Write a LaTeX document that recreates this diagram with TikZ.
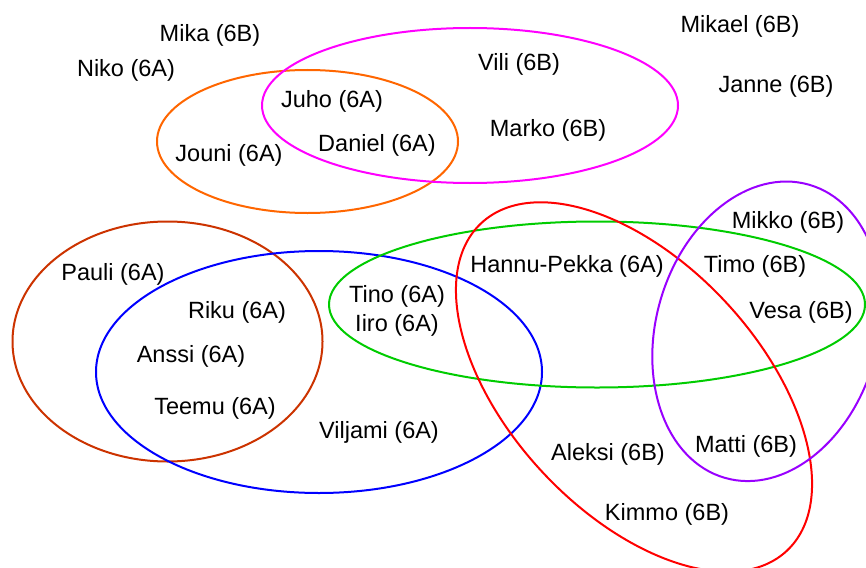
\documentclass[tikz,border=0pt]{standalone}
\usepackage{fontspec}
\setmainfont{Liberation Sans}
\definecolor{setorange}{HTML}{FF6600}
\definecolor{setmagenta}{HTML}{FF00FF}
\definecolor{setbrown}{HTML}{CC3300}
\definecolor{setblue}{HTML}{0000FF}
\definecolor{setgreen}{HTML}{00CC00}
\definecolor{setred}{HTML}{FF0000}
\definecolor{setpurple}{HTML}{9900FF}
\tikzset{
  setline/.style={line width=2pt},
  pupil/.style={inner sep=0pt, font=\fontsize{23.5}{28}\selectfont}
}
\begin{document}
\begin{tikzpicture}[x=1pt, y=-1pt]
\useasboundingbox (0,0) rectangle (866,567);
\fill[white] (0,0) rectangle (866,567);
\clip (0,0) rectangle (866,567);

% groups
\draw[setline, setorange]  (307.5,141.5) ellipse [x radius=150.5pt, y radius=71.5pt];
\draw[setline, setmagenta] (470,105.5) ellipse [x radius=208pt, y radius=77.5pt];
\draw[setline, setbrown]   (167.5,341.5) ellipse [x radius=155pt, y radius=120pt];
\draw[setline, setblue]    (319,372) ellipse [x radius=223pt, y radius=121pt];
\draw[setline, setgreen]   (597,304.5) ellipse [x radius=268pt, y radius=83pt];
\draw[setline, setred, rotate around={-47:(634,387)}]
  (634,387) ellipse [x radius=224pt, y radius=125pt];
\draw[setline, setpurple, rotate around={74:(767,331.3)}]
  (767,331.3) ellipse [x radius=152.5pt, y radius=111pt];

% pupils
\begin{scope}[shift={(0,2.5)}]
\node[pupil] (mika)   at (210,33)  {Mika (6B)};
\node[pupil] (niko)   at (126,68)  {Niko (6A)};
\node[pupil] (mikael) at (740,24)  {Mikael (6B)};
\node[pupil] (janne)  at (776,84)  {Janne (6B)};
\node[pupil] (vili)   at (519,62)  {Vili (6B)};
\node[pupil] (juho)   at (332,99)  {Juho (6A)};
\node[pupil] (marko)  at (548,128) {Marko (6B)};
\node[pupil] (daniel) at (377,143) {Daniel (6A)};
\node[pupil] (jouni)  at (229,153) {Jouni (6A)};
\node[pupil] (mikko)  at (788,220) {Mikko (6B)};
\node[pupil] (timo)   at (755,264) {Timo (6B)};
\node[pupil] (hannu)  at (567,264) {Hannu-Pekka (6A)};
\node[pupil] (vesa)   at (801,310) {Vesa (6B)};
\node[pupil] (matti)  at (746,444) {Matti (6B)};
\node[pupil] (aleksi) at (608,452) {Aleksi (6B)};
\node[pupil] (kimmo)  at (667,512) {Kimmo (6B)};
\node[pupil] (pauli)  at (113,272) {Pauli (6A)};
\node[pupil] (riku)   at (237,310) {Riku (6A)};
\node[pupil] (anssi)  at (191,354) {Anssi (6A)};
\node[pupil] (teemu)  at (215,406) {Teemu (6A)};
\node[pupil] (viljami) at (379,430) {Viljami (6A)};
\node[pupil] (tino)   at (397,294) {Tino (6A)};
\node[pupil] (iiro)   at (397,323) {Iiro (6A)};
\end{scope}
\end{tikzpicture}
\end{document}
